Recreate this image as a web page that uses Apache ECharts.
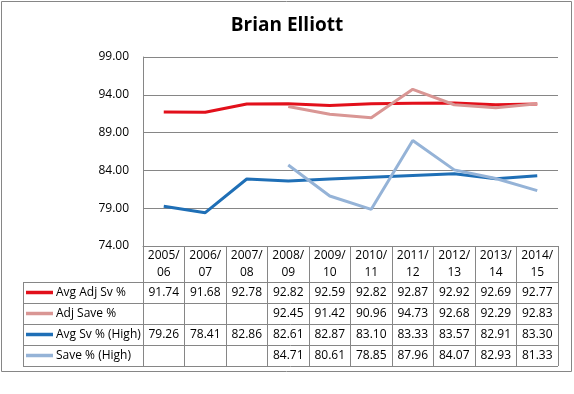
<!DOCTYPE html>
<html>
<head>
<meta charset="utf-8">
<script src="https://cdn.jsdelivr.net/npm/echarts@6/dist/echarts.min.js"></script>
<style>
  html, body { margin: 0; padding: 0; background: #fff; }
  #main { width: 574px; height: 394px; }
</style>
</head>
<body>
<div id="main"></div>
<script>
// ---- data ----
const categories = ['2005/06', '2006/07', '2007/08', '2008/09', '2009/10', '2010/11', '2011/12', '2012/13', '2013/14', '2014/15'];
const avgAdjSv  = [91.74, 91.68, 92.78, 92.82, 92.59, 92.82, 92.87, 92.92, 92.69, 92.77];
const adjSave   = [null, null, null, 92.45, 91.42, 90.96, 94.73, 92.68, 92.29, 92.83];
const avgSvHigh = [79.26, 78.41, 82.86, 82.61, 82.87, 83.10, 83.33, 83.57, 82.91, 83.30];
const saveHigh  = [null, null, null, 84.71, 80.61, 78.85, 87.96, 84.07, 82.93, 81.33];
const yTicks = [74, 79, 84, 89, 94, 99];
const seriesNames = ['Avg Adj Sv %', 'Adj Save %', 'Avg Sv % (High)', 'Save % (High)'];
const seriesData = [avgAdjSv, adjSave, avgSvHigh, saveHigh];
const seriesColors = ['#E2101B', '#D99694', '#1F6FB6', '#95B3D7'];

const FONT = "'Open Sans', sans-serif";
const GRAY = '#868686';

const chart = echarts.init(document.getElementById('main'), null, { renderer: 'canvas' });

chart.setOption({
  animation: false,
  backgroundColor: '#fff',
  title: {
    text: 'Brian Elliott',
    left: 'center',
    top: 11,
    textStyle: { fontFamily: FONT, fontSize: 19, fontWeight: 'bold', color: '#000' }
  },
  grid: { left: 143, right: 16, top: 57, bottom: 148, containLabel: false },
  xAxis: {
    type: 'category',
    data: categories,
    boundaryGap: true,
    axisLine: { show: true, lineStyle: { color: GRAY, width: 1 } },
    axisTick: { show: true, interval: 0, alignWithLabel: false, length: 120, lineStyle: { color: GRAY, width: 1 } },
    axisLabel: {
      interval: 0,
      margin: 1,
      lineHeight: 17,
      fontFamily: FONT,
      fontSize: 12,
      color: '#000',
      formatter: v => v.replace('/', '/\n')
    },
    splitLine: { show: false }
  },
  yAxis: {
    type: 'value',
    min: 74,
    max: 99,
    axisLine: { show: true, lineStyle: { color: GRAY, width: 1 } },
    axisTick: { show: false, customValues: yTicks },
    axisLabel: {
      customValues: yTicks,
      margin: 14,
      fontFamily: FONT,
      fontSize: 12,
      color: '#000',
      formatter: v => v.toFixed(2)
    },
    splitLine: { show: true, lineStyle: { color: GRAY, width: 1 } }
  },
  series: seriesNames.map((name, i) => ({
    name,
    type: 'line',
    data: seriesData[i],
    showSymbol: false,
    symbol: 'none',
    connectNulls: false,
    lineStyle: { color: seriesColors[i], width: 3 },
    itemStyle: { color: seriesColors[i] },
    z: 2 + i
  }))
});

// ---- data table below the plot, positioned from the axes ----
function buildTable() {
  const c0 = chart.convertToPixel({ xAxisIndex: 0 }, categories[0]);
  const c1 = chart.convertToPixel({ xAxisIndex: 0 }, categories[1]);
  const colW = c1 - c0;
  const cLast = chart.convertToPixel({ xAxisIndex: 0 }, categories[categories.length - 1]);
  const right = cLast + colW / 2;
  const yBase = chart.convertToPixel({ yAxisIndex: 0 }, 74);
  const headerH = 36;
  const rowH = 21;
  const tableLeft = 23;
  const elements = [];

  // outer chart border
  elements.push({
    type: 'rect',
    shape: { x: 1.5, y: 1.5, width: 570, height: 370 },
    style: { fill: null, stroke: GRAY, lineWidth: 1 },
    silent: true
  });

  // horizontal row lines
  for (let r = 0; r <= seriesNames.length; r++) {
    const y = Math.round(yBase + headerH + r * rowH) + 0.5;
    elements.push({
      type: 'line',
      shape: { x1: tableLeft, y1: y, x2: right, y2: y },
      style: { stroke: GRAY, lineWidth: 1 },
      silent: true
    });
  }
  // left edge of row-header column
  elements.push({
    type: 'line',
    shape: { x1: tableLeft + 0.5, y1: Math.round(yBase + headerH) + 0.5, x2: tableLeft + 0.5, y2: Math.round(yBase + headerH + seriesNames.length * rowH) + 0.5 },
    style: { stroke: GRAY, lineWidth: 1 },
    silent: true
  });

  seriesNames.forEach((name, r) => {
    const cy = yBase + headerH + r * rowH + rowH / 2;
    // legend key
    elements.push({
      type: 'line',
      shape: { x1: 26, y1: cy, x2: 53, y2: cy },
      style: { stroke: seriesColors[r], lineWidth: 3.5 },
      silent: true
    });
    elements.push({
      type: 'text',
      x: 56, y: cy,
      style: { text: name, fontFamily: FONT, fontSize: 12, fill: '#000', verticalAlign: 'middle', align: 'left' },
      silent: true
    });
    seriesData[r].forEach((v, i) => {
      if (v == null) return;
      const cx = chart.convertToPixel({ xAxisIndex: 0 }, categories[i]);
      elements.push({
        type: 'text',
        x: cx, y: cy,
        style: { text: v.toFixed(2), fontFamily: FONT, fontSize: 12, fill: '#000', align: 'center', verticalAlign: 'middle' },
        silent: true
      });
    });
  });

  chart.setOption({ graphic: { elements } });
}
buildTable();
</script>
</body>
</html>
